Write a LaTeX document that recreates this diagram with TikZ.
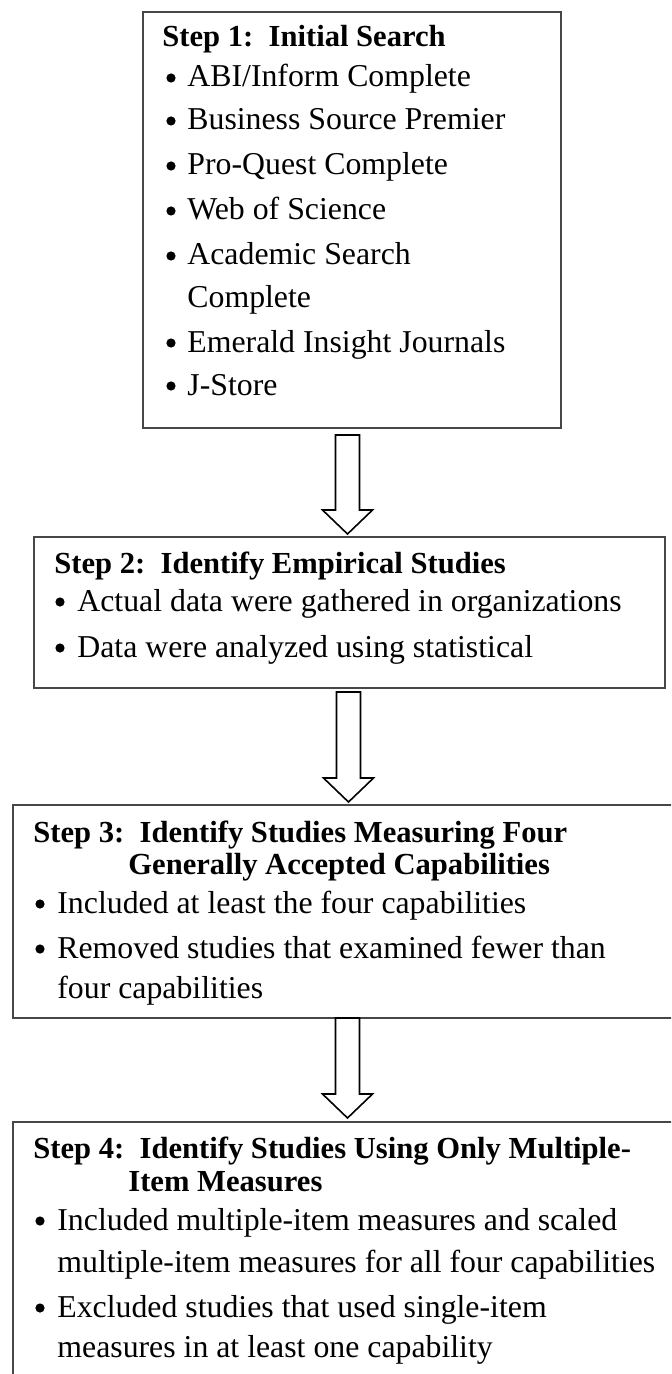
\documentclass[tikz,border=0pt]{standalone}
\usepackage{fontspec}
\setmainfont{Liberation Serif}
\usetikzlibrary{calc}
\tikzset{
  stepbox/.style={draw=black!72, line width=0.8pt, fill=none, inner sep=0pt, anchor=north west},
  ln/.style={anchor=base west, inner sep=0pt, font=\fontsize{15.9}{19}\selectfont},
  hd/.style={anchor=base west, inner sep=0pt, font=\fontsize{15.3}{18}\selectfont\bfseries},
  dot/.style={circle, fill=black, inner sep=0pt, minimum size=4.6pt},
  blockar/.style={draw=black, line width=0.8pt, fill=white, line join=miter}
}
\newcommand\blockarrow[2]{%
  \draw[blockar] ($(#1)+(-12,0)$) -- ($(#1)+(12,0)$) -- ($(#2)+(12,-24)$) -- ($(#2)+(25,-24)$)
    -- (#2) -- ($(#2)+(-25,-24)$) -- ($(#2)+(-12,-24)$) -- cycle;}
\begin{document}
\begin{tikzpicture}[x=0.5pt,y=-0.5pt]
\useasboundingbox[fill=white] (0,0) rectangle (671,1374);
\clip (0,0) rectangle (671,1374);

% boxes
\node[stepbox, minimum width=209pt, minimum height=208pt] (s1) at (142,11) {};
\node[stepbox, minimum width=315.5pt, minimum height=75.5pt] (s2) at (33,536) {};
\node[stepbox, minimum width=339pt, minimum height=106.5pt] (s3) at (12,804) {};
\node[stepbox, minimum width=339pt, minimum height=139.5pt] (s4) at (12,1121) {};

% arrows
\coordinate (a1t) at (347.5,435);
\coordinate (a1b) at (347.5,534);
\coordinate (a2t) at (348.5,692);
\coordinate (a2b) at (348.5,802);
\coordinate (a3t) at (347.5,1018);
\coordinate (a3b) at (347.5,1118);
\blockarrow{a1t}{a1b}
\blockarrow{a2t}{a2b}
\blockarrow{a3t}{a3b}

% Step 1
\node[hd] (t1) at (162,47) {Step 1:~~Initial Search};
\node[dot] (b11) at (171,78) {};
\node[ln] (l11) at (187,87) {ABI/Inform Complete};
\node[dot] (b12) at (171,121) {};
\node[ln] (l12) at (187,130) {Business Source Premier};
\node[dot] (b13) at (171,166) {};
\node[ln] (l13) at (187,175) {Pro-Quest Complete};
\node[dot] (b14) at (171,211) {};
\node[ln] (l14) at (187,220) {Web of Science};
\node[dot] (b15) at (171,256) {};
\node[ln] (l15) at (187,265) {Academic Search};
\node[ln] (l15b) at (187,307) {Complete};
\node[dot] (b16) at (171,343) {};
\node[ln] (l16) at (187,352) {Emerald Insight Journals};
\node[dot] (b17) at (171,386) {};
\node[ln] (l17) at (187,395) {J-Store};

% Step 2
\node[hd] (t2) at (54,573) {Step 2:~~Identify Empirical Studies};
\node[dot] (b21) at (60,602) {};
\node[ln] (l21) at (77,611) {Actual data were gathered in organizations};
\node[dot] (b22) at (60,648) {};
\node[ln] (l22) at (77,657) {Data were analyzed using statistical};

% Step 3
\node[hd] (t3) at (33,842) {Step 3:~~Identify Studies Measuring Four};
\node[hd] (t3b) at (128,874) {Generally Accepted Capabilities};
\node[dot] (b31) at (40,904) {};
\node[ln] (l31) at (57,913) {Included at least the four capabilities};
\node[dot] (b32) at (40,949) {};
\node[ln] (l32) at (57,958) {Removed studies that examined fewer than};
\node[ln] (l32b) at (57,998) {four capabilities};

% Step 4
\node[hd] (t4) at (33,1158) {Step 4:~~Identify Studies Using Only Multiple-};
\node[hd] (t4b) at (128,1191) {Item Measures};
\node[dot] (b41) at (40,1221) {};
\node[ln] (l41) at (57,1230) {Included multiple-item measures and scaled};
\node[ln] (l41b) at (57,1272) {multiple-item measures for all four capabilities};
\node[dot] (b42) at (40,1308) {};
\node[ln] (l42) at (57,1317) {Excluded studies that used single-item};
\node[ln] (l42b) at (57,1357) {measures in at least one capability};
\end{tikzpicture}
\end{document}
